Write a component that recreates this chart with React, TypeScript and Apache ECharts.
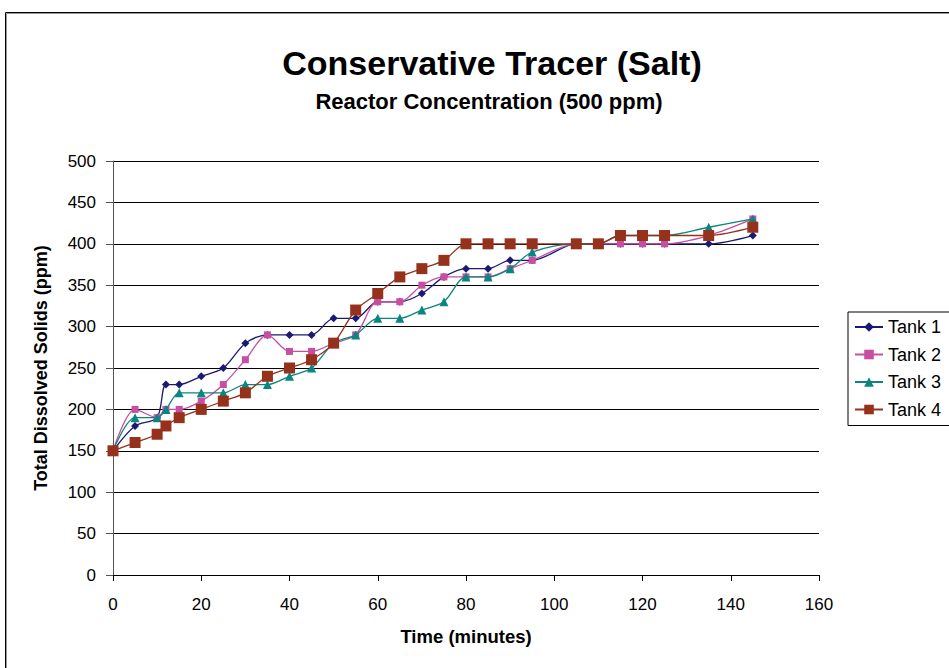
import React, { useEffect, useRef } from "react";
import * as echarts from "echarts";

const times = [0, 5, 10, 12, 15, 20, 25, 30, 35, 40, 45, 50, 55, 60, 65, 70, 75, 80, 85, 90, 95, 105, 110, 115, 120, 125, 135, 145];
const tank1 = [150, 180, 190, 230, 230, 240, 250, 280, 290, 290, 290, 310, 310, 330, 330, 340, 360, 370, 370, 380, 380, 400, 400, 400, 400, 400, 400, 410];
const tank2 = [150, 200, 190, 200, 200, 210, 230, 260, 290, 270, 270, 280, 290, 330, 330, 350, 360, 360, 360, 370, 380, 400, 400, 400, 400, 400, 410, 430];
const tank3 = [150, 190, 190, 200, 220, 220, 220, 230, 230, 240, 250, 280, 290, 310, 310, 320, 330, 360, 360, 370, 390, 400, 400, 410, 410, 410, 420, 430];
const tank4 = [150, 160, 170, 180, 190, 200, 210, 220, 240, 250, 260, 280, 320, 340, 360, 370, 380, 400, 400, 400, 400, 400, 400, 410, 410, 410, 410, 420];

const seriesNames = ["Tank 1", "Tank 2", "Tank 3", "Tank 4"];
const seriesValues = [tank1, tank2, tank3, tank4];
const seriesColors = ["#1a1a72", "#c64fa2", "#0b8580", "#96311c"];
const seriesSymbols = ["diamond", "rect", "triangle", "rect"];
const seriesSymbolSizes = [8, 7, 9, 11];

const FONT = "Liberation Sans, Arial, sans-serif";

export default function App() {
  const ref = useRef<HTMLDivElement>(null);
  useEffect(() => {
    if (!ref.current) return;
    const chart = echarts.init(ref.current, undefined, { renderer: "svg" });
    chart.setOption({
      animation: false,
      backgroundColor: "#ffffff",
      textStyle: { fontFamily: FONT },
      title: [
        {
          text: "Conservative Tracer (Salt)",
          left: 487,
          top: 41,
          textAlign: "center",
          textStyle: { fontFamily: FONT, fontSize: 34, fontWeight: "bold", color: "#000" },
        },
        {
          text: "Reactor Concentration (500 ppm)",
          left: 484,
          top: 85,
          textAlign: "center",
          textStyle: { fontFamily: FONT, fontSize: 22, fontWeight: "bold", color: "#000" },
        },
      ],
      graphic: [
        {
          type: "rect",
          shape: { x: 5.5, y: 12.5, width: 1000, height: 700 },
          style: { fill: "none", stroke: "#000", lineWidth: 1 },
          silent: true,
        },
        {
          type: "rect",
          shape: { x: 6.5, y: 13.5, width: 1000, height: 700 },
          style: { fill: "none", stroke: "#999", lineWidth: 1 },
          silent: true,
        },
      ],
      legend: {
        orient: "vertical",
        left: 848,
        top: 312,
        padding: [6, 20, 7, 6],
        itemGap: 9.5,
        itemWidth: 28,
        itemHeight: 12,
        borderColor: "#000",
        borderWidth: 1,
        backgroundColor: "#fff",
        textStyle: { fontFamily: FONT, fontSize: 18, color: "#000", lineHeight: 18 },
        data: seriesNames,
      },
      grid: { left: 113, top: 161, width: 706, height: 414, containLabel: false },
      xAxis: {
        type: "value",
        min: 0,
        max: 160,
        interval: 20,
        name: "Time (minutes)",
        nameLocation: "middle",
        nameGap: 52,
        nameTextStyle: { fontFamily: FONT, fontSize: 18.5, fontWeight: "bold", color: "#000" },
        axisLine: { show: true, onZero: false, lineStyle: { color: "#000", width: 1 } },
        axisTick: { show: true, inside: false, length: 6, lineStyle: { color: "#000" } },
        axisLabel: { fontFamily: FONT, fontSize: 17, color: "#000", margin: 21 },
        splitLine: { show: false },
      },
      yAxis: {
        type: "value",
        min: 0,
        max: 500,
        interval: 50,
        name: "Total Dissolved Solids (ppm)",
        nameLocation: "middle",
        nameGap: 63,
        nameRotate: 90,
        nameTextStyle: { fontFamily: FONT, fontSize: 18, fontWeight: "bold", color: "#000" },
        axisLine: { show: true, lineStyle: { color: "#555", width: 1 } },
        axisTick: { show: true, length: 7, lineStyle: { color: "#555" } },
        axisLabel: { fontFamily: FONT, fontSize: 17, color: "#000", margin: 17 },
        splitLine: { show: true, lineStyle: { color: "#000", width: 1, type: "solid" } },
      },
      series: seriesNames.map((name, i) => ({
        name,
        type: "line",
        smooth: 0.3,
        data: times.map((t, j) => [t, seriesValues[i][j]]),
        symbol: seriesSymbols[i],
        symbolSize: seriesSymbolSizes[i],
        showSymbol: true,
        color: seriesColors[i],
        lineStyle: { color: seriesColors[i], width: 1.3 },
        itemStyle: { color: seriesColors[i] },
        z: 2 + i,
      })),
    });
    return () => chart.dispose();
  }, []);
  return <div ref={ref} style={{ width: 949, height: 668, position: "absolute", left: 0, top: 0 }} />;
}
